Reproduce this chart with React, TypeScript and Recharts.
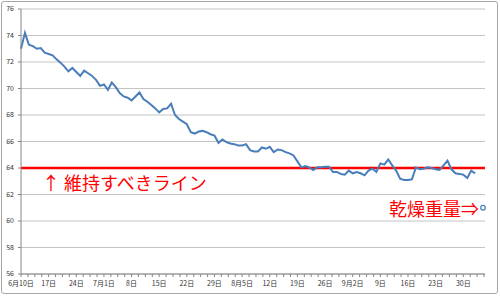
import { LineChart, Line, XAxis, YAxis, CartesianGrid, ReferenceLine, LabelList } from "recharts"

// daily weight (kg) from 6/10, one value per day
const WEIGHTS = [
  73.0, 74.2, 73.3, 73.2, 73.0, 73.05, 72.7, 72.6, 72.5, 72.2,
  71.95, 71.65, 71.3, 71.55, 71.25, 70.95, 71.35, 71.15, 70.95, 70.65,
  70.2, 70.3, 69.9, 70.45, 70.1, 69.65, 69.4, 69.3, 69.1, 69.4,
  69.7, 69.2, 69.0, 68.75, 68.5, 68.2, 68.45, 68.5, 68.85, 68.0,
  67.7, 67.5, 67.3, 66.7, 66.6, 66.75, 66.8, 66.7, 66.55, 66.45,
  65.9, 66.15, 65.95, 65.85, 65.8, 65.7, 65.7, 65.8, 65.35, 65.25,
  65.25, 65.55, 65.45, 65.6, 65.2, 65.4, 65.35, 65.2, 65.1, 64.95,
  64.5, 64.05, 64.15, 64.05, 63.85, 64.05, 64.05, 64.1, 64.1, 63.7,
  63.7, 63.55, 63.5, 63.8, 63.6, 63.7, 63.6, 63.45, 63.8, 63.95,
  63.7, 64.35, 64.25, 64.65, 64.2, 63.8, 63.2, 63.1, 63.1, 63.15,
  64.05, 63.9, 63.95, 64.05, 64.0, 63.9, 63.85, 64.2, 64.55, 63.9,
  63.6, 63.55, 63.5, 63.25, 63.8, 63.6,
]

const DRY_DAY = 117
const DRY_WEIGHT = 61
const TARGET = 64

const TICK_LABELS = [
  "6月10日", "17日", "24日", "7月1日", "8日", "15日", "22日", "29日",
  "8月5日", "12日", "19日", "26日", "9月2日", "9日", "16日", "23日", "30日",
]
const Y_TICKS = [56, 58, 60, 62, 64, 66, 68, 70, 72, 74, 76]

const data = [
  ...WEIGHTS.map((weight, day) => ({ day, weight })),
  { day: DRY_DAY, dry: DRY_WEIGHT },
]

// minor ticks every 1.75 days, labels once a week
const xTicks = Array.from({ length: 68 }, (_, i) => i * 1.75)

const BLUE = "#4A7EBB"
const RED = "#FF0000"
const FONT = "'Noto Sans CJK JP', sans-serif"
const axisTick = { fontSize: 7, fill: "#333", fontFamily: FONT }

function TargetLabel({ viewBox }: any) {
  return (
    <text
      x={viewBox.x + 21}
      y={viewBox.y + 14}
      fill={RED}
      fontSize={18}
      fontFamily={FONT}
      dominantBaseline="central"
    >
      ↑ 維持すべきライン
    </text>
  )
}

function DryLabel({ x, y, value }: any) {
  if (value == null) return null
  return (
    <text
      x={x - 4}
      y={y}
      fill={RED}
      fontSize={18}
      fontFamily={FONT}
      textAnchor="end"
      dominantBaseline="central"
    >
      乾燥重量⇒
    </text>
  )
}

export default function App() {
  return (
    <div style={{ position: "relative", width: 500, height: 296, background: "#fff" }}>
      <style>{`body{margin:0}`}</style>
      <div
        style={{
          position: "absolute",
          left: 1,
          top: 1,
          width: 497,
          height: 293,
          boxSizing: "border-box",
          border: "1px solid #a6a6a6",
          borderRadius: 3,
        }}
      />
      <LineChart
        width={500}
        height={296}
        data={data}
        margin={{ top: 9, right: 15, bottom: 2, left: 0 }}
        style={{ position: "absolute", left: 0, top: 0 }}
      >
        <CartesianGrid vertical={false} stroke="#c4c4c4" />
        <XAxis
          dataKey="day"
          type="number"
          domain={[0, 117.5]}
          ticks={xTicks}
          interval={0}
          tickFormatter={(v: number) => (v % 7 === 0 ? TICK_LABELS[v / 7] ?? "" : "")}
          height={20}
          tickSize={3}
          tickMargin={4}
          stroke="#868686"
          tick={axisTick}
        />
        <YAxis
          domain={[56, 76]}
          ticks={Y_TICKS}
          interval={0}
          width={21}
          tickSize={3}
          tickMargin={4}
          stroke="#868686"
          tick={axisTick}
        />
        <ReferenceLine y={TARGET} stroke={RED} strokeWidth={2.5} label={<TargetLabel />} />
        <Line
          dataKey="weight"
          type="linear"
          stroke={BLUE}
          strokeWidth={2}
          dot={false}
          isAnimationActive={false}
        />
        <Line
          dataKey="dry"
          stroke={BLUE}
          dot={{ r: 2.3, fill: "#fff", stroke: BLUE, strokeWidth: 1.2 }}
          isAnimationActive={false}
        >
          <LabelList dataKey="dry" content={<DryLabel />} />
        </Line>
      </LineChart>
    </div>
  )
}
